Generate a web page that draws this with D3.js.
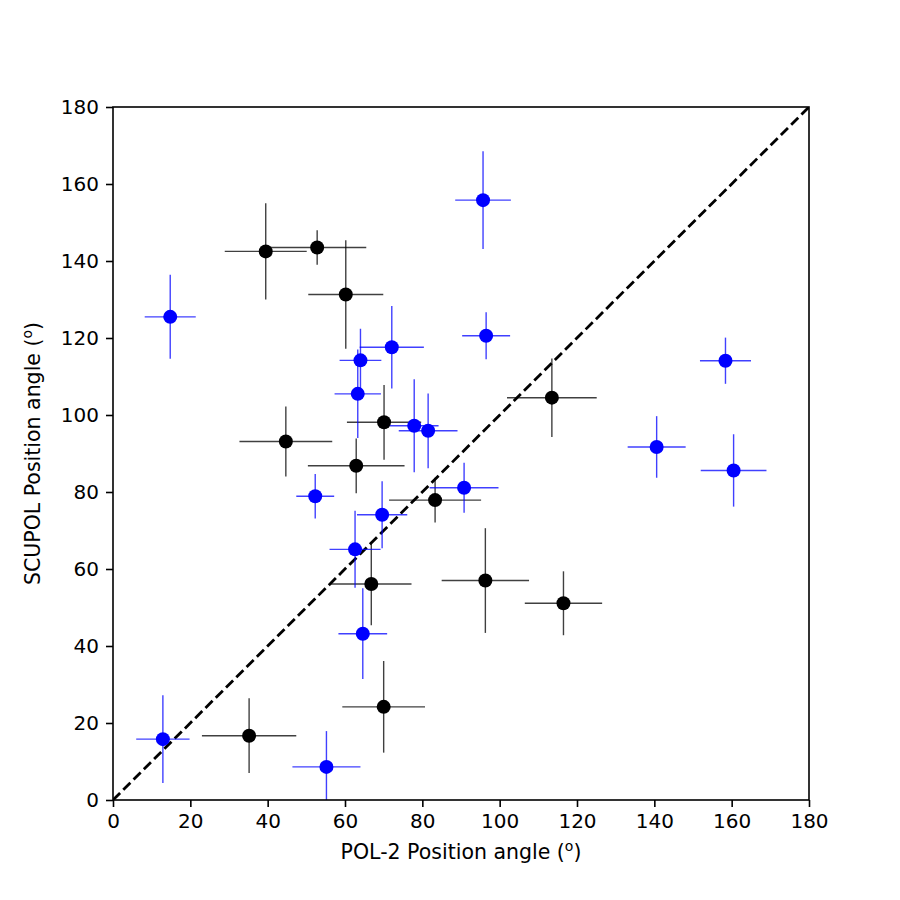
<!DOCTYPE html>
<html>
<head>
<meta charset="utf-8">
<script src="https://cdn.jsdelivr.net/npm/d3@7"></script>
<style>
  body { margin: 0; background: #fff; }
  text { font-family: "DejaVu Sans", sans-serif; }
</style>
</head>
<body>
<div id="chart"></div>
<script>
// POL-2 vs SCUPOL position angles (deg), with errors
const blackX   = [39.5, 52.8, 60.2, 70.1, 44.7, 62.9, 83.3, 66.8, 96.3, 70.0, 35.2, 113.5, 116.5];
const blackY   = [142.5, 143.5, 131.3, 98.1, 93.1, 86.8, 77.9, 56.1, 57.0, 24.2, 16.7, 104.5, 51.1];
const blackXErr = [10.6, 12.7, 9.7, 9.6, 12.0, 12.5, 11.9, 10.4, 11.3, 10.7, 12.2, 11.6, 10.0];
const blackYErr = [12.5, 4.5, 14.1, 9.7, 9.1, 7.1, 5.8, 10.7, 13.6, 11.9, 9.7, 10.2, 8.3];

const blueX    = [14.8, 95.7, 96.5, 64.0, 63.3, 72.1, 77.9, 81.5, 52.3, 90.8, 69.6, 62.6, 64.6, 12.9, 55.2, 140.6, 160.5, 158.4];
const blueY    = [125.5, 155.8, 120.6, 114.2, 105.5, 117.6, 97.2, 95.9, 78.9, 81.1, 74.1, 65.1, 43.2, 15.8, 8.6, 91.7, 85.6, 114.1];
const blueXErr = [6.6, 7.2, 6.2, 5.4, 6.0, 8.3, 6.3, 7.6, 4.9, 8.9, 6.5, 6.6, 6.3, 6.9, 8.8, 7.5, 8.5, 6.6];
const blueYErr = [10.9, 12.7, 6.1, 8.2, 11.5, 10.7, 12.1, 9.7, 5.8, 6.5, 8.7, 10.0, 11.8, 11.4, 9.3, 8.0, 9.4, 6.0];

const xTicks = [0, 20, 40, 60, 80, 100, 120, 140, 160, 180];
const yTicks = [0, 20, 40, 60, 80, 100, 120, 140, 160, 180];

// set the dimensions and margins of the graph
const margin = {top: 107, right: 91, bottom: 100, left: 113},
    width = 900 - margin.left - margin.right,
    height = 900 - margin.top - margin.bottom;

const svg = d3.select("#chart")
  .append("svg")
  .attr("width", 900)
  .attr("height", 900)
  .append("g")
  .attr("transform", `translate(${margin.left},${margin.top})`);

const x = d3.scaleLinear().domain([0, 180]).range([0, width]);
const y = d3.scaleLinear().domain([0, 180]).range([height, 0]);

svg.append("clipPath").attr("id", "clip")
  .append("rect").attr("width", width).attr("height", height);

const plot = svg.append("g").attr("clip-path", "url(#clip)");

// 1:1 line
plot.append("path")
  .datum([0, 180])
  .attr("d", d3.line().x(d => x(d)).y(d => y(d)))
  .attr("stroke", "black")
  .attr("stroke-width", 2.8)
  .attr("stroke-dasharray", "10,4.5")
  .attr("fill", "none");

function drawSeries(xs, ys, xe, ye, color) {
  const data = xs.map((d, i) => ({x: d, y: ys[i], xe: xe[i], ye: ye[i]}));
  const g = plot.append("g");
  g.selectAll(".xerr")
    .data(data)
    .join("line")
    .attr("x1", d => x(d.x - d.xe))
    .attr("x2", d => x(d.x + d.xe))
    .attr("y1", d => y(d.y))
    .attr("y2", d => y(d.y))
    .attr("stroke", color)
    .attr("stroke-opacity", 0.75)
    .attr("stroke-width", 1.4);
  g.selectAll(".yerr")
    .data(data)
    .join("line")
    .attr("x1", d => x(d.x))
    .attr("x2", d => x(d.x))
    .attr("y1", d => y(d.y - d.ye))
    .attr("y2", d => y(d.y + d.ye))
    .attr("stroke", color)
    .attr("stroke-opacity", 0.75)
    .attr("stroke-width", 1.4);
  g.selectAll("circle")
    .data(data)
    .join("circle")
    .attr("cx", d => x(d.x))
    .attr("cy", d => y(d.y))
    .attr("r", 7)
    .attr("fill", color);
}

drawSeries(blackX, blackY, blackXErr, blackYErr, "black");
drawSeries(blueX, blueY, blueXErr, blueYErr, "blue");

// axes
const xAxis = svg.append("g")
  .attr("transform", `translate(0,${height})`)
  .call(d3.axisBottom(x).tickValues(xTicks).tickSize(7).tickPadding(7).tickSizeOuter(0));
const yAxis = svg.append("g")
  .call(d3.axisLeft(y).tickValues(yTicks).tickSize(7).tickPadding(7).tickSizeOuter(0));

[xAxis, yAxis].forEach(a => {
  a.select(".domain").remove();
  a.selectAll("line").attr("stroke", "black").attr("stroke-width", 1.6);
  a.selectAll("text").attr("font-size", 20).attr("fill", "black")
    .attr("font-family", "DejaVu Sans, sans-serif");
});

// frame
svg.append("rect")
  .attr("width", width).attr("height", height)
  .attr("fill", "none").attr("stroke", "black").attr("stroke-width", 1.6);

// labels
const xl = svg.append("text")
  .attr("x", width / 2).attr("y", height + 59)
  .attr("text-anchor", "middle").attr("font-size", 20.5);
xl.append("tspan").text("POL-2 Position angle (");
xl.append("tspan").attr("font-size", 14).attr("dy", -8).text("o");
xl.append("tspan").attr("dy", 8).text(")");

const yl = svg.append("text")
  .attr("transform", `translate(${-73},${height / 2}) rotate(-90)`)
  .attr("text-anchor", "middle").attr("font-size", 20.5);
yl.append("tspan").text("SCUPOL Position angle (");
yl.append("tspan").attr("font-size", 14).attr("dy", -8).text("o");
yl.append("tspan").attr("dy", 8).text(")");
</script>
</body>
</html>
